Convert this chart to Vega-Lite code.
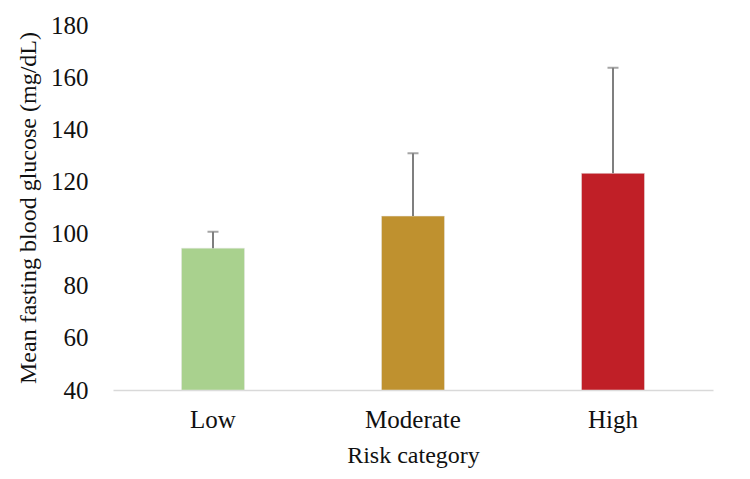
{
  "$schema": "https://vega.github.io/schema/vega-lite/v6.json",
  "autosize": "none",
  "width": 600,
  "height": 365,
  "padding": {"left": 113, "top": 25, "right": 37, "bottom": 89},
  "background": "white",
  "data": {
    "values": [
      {"risk": "Low", "mean": 94.4, "upper": 100.7, "color": "#a9d18e"},
      {"risk": "Moderate", "mean": 106.7, "upper": 130.8, "color": "#bf912f"},
      {"risk": "High", "mean": 123.1, "upper": 163.6, "color": "#c01f27"}
    ]
  },
  "config": {
    "view": {"stroke": null},
    "font": "Liberation Serif",
    "axis": {
      "labelFont": "Liberation Serif",
      "titleFont": "Liberation Serif",
      "labelFontSize": 25,
      "titleFontSize": 24,
      "labelColor": "#111111",
      "titleColor": "#111111",
      "titleFontWeight": "normal",
      "grid": false
    }
  },
  "encoding": {
    "x": {
      "field": "risk",
      "type": "nominal",
      "sort": ["Low", "Moderate", "High"],
      "scale": {"paddingInner": 0, "paddingOuter": 0},
      "axis": {
        "title": "Risk category",
        "labelAngle": 0,
        "ticks": false,
        "domainColor": "#d9d9d9",
        "domainWidth": 1.5,
        "labelPadding": 17,
        "titlePadding": 11
      }
    }
  },
  "layer": [
    {
      "mark": {"type": "bar", "size": 63, "stroke": "#e6e6e6", "strokeWidth": 0.5},
      "encoding": {
        "y": {
          "field": "mean",
          "type": "quantitative",
          "scale": {"domain": [40, 180], "nice": false, "zero": false},
          "axis": {
            "title": "Mean fasting blood glucose (mg/dL)",
            "values": [40, 60, 80, 100, 120, 140, 160, 180],
            "domain": false,
            "ticks": false,
            "labelPadding": 25,
            "titlePadding": 10
          }
        },
        "y2": {"datum": 40},
        "color": {"field": "color", "type": "nominal", "scale": null}
      }
    },
    {
      "mark": {"type": "rule", "color": "#7f7f7f", "strokeWidth": 2},
      "encoding": {
        "y": {"field": "mean", "type": "quantitative"},
        "y2": {"field": "upper"}
      }
    },
    {
      "mark": {"type": "tick", "color": "#7f7f7f", "size": 11, "thickness": 2},
      "encoding": {
        "y": {"field": "upper", "type": "quantitative"}
      }
    }
  ]
}
